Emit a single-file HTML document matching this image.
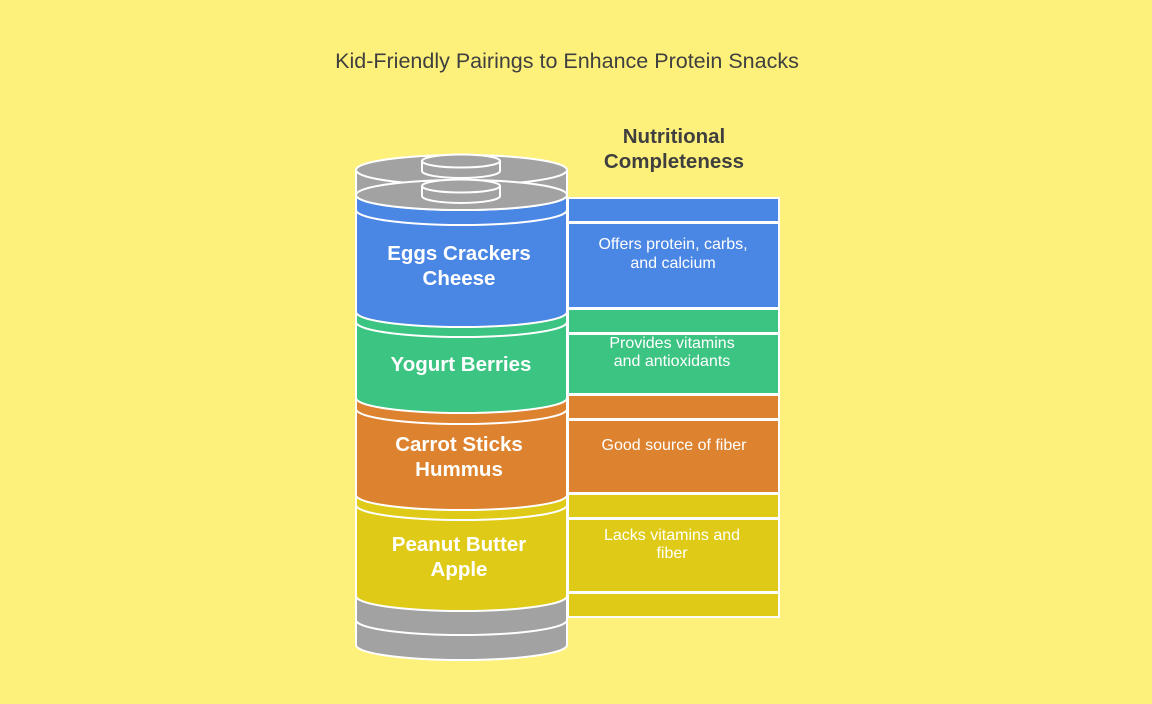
<!DOCTYPE html>
<html><head><style>
body{margin:0;width:1152px;height:704px;background:#fef17b;overflow:hidden}
svg{display:block}
text{font-family:"Liberation Sans",sans-serif}
</style></head><body>
<svg width="1152" height="704" viewBox="0 0 1152 704">
<rect width="1152" height="704" fill="#fef17b"/>
<text x="567" y="68" font-size="21.5" fill="#3f3f3f" text-anchor="middle">Kid-Friendly Pairings to Enhance Protein Snacks</text>
<text x="674" y="143" font-size="20.5" font-weight="bold" fill="#3f3f3f" text-anchor="middle">Nutritional</text>
<text x="674" y="168" font-size="20.5" font-weight="bold" fill="#3f3f3f" text-anchor="middle">Completeness</text>

<g stroke="#fff" stroke-width="2">
<rect x="568" y="198" width="211" height="24" fill="#4a86e4"/>
<rect x="568" y="223" width="211" height="85" fill="#4a86e4"/>
<rect x="568" y="309" width="211" height="24" fill="#3cc482"/>
<rect x="568" y="334" width="211" height="60" fill="#3cc482"/>
<rect x="568" y="395" width="211" height="24" fill="#dd822e"/>
<rect x="568" y="420" width="211" height="73" fill="#dd822e"/>
<rect x="568" y="494" width="211" height="24" fill="#dfcb17"/>
<rect x="568" y="519" width="211" height="73" fill="#dfcb17"/>
<rect x="568" y="593" width="211" height="24" fill="#dfcb17"/>

<path d="M356,596 L356,645 A105.5,15 0 0 0 567,645 L567,596 Z" fill="#a2a2a2"/>
<path d="M356,620 A105.5,15 0 0 0 567,620" fill="none"/>
<path d="M356,495 L356,596 A105.5,15 0 0 0 567,596 L567,495 Z" fill="#dfcb17"/>
<path d="M356,505 A105.5,15 0 0 0 567,505" fill="none"/>
<path d="M356,398 L356,495 A105.5,15 0 0 0 567,495 L567,398 Z" fill="#dd822e"/>
<path d="M356,409 A105.5,15 0 0 0 567,409" fill="none"/>
<path d="M356,312 L356,398 A105.5,15 0 0 0 567,398 L567,312 Z" fill="#3cc482"/>
<path d="M356,322 A105.5,15 0 0 0 567,322" fill="none"/>
<path d="M356,175 L356,312 A105.5,15 0 0 0 567,312 L567,175 Z" fill="#4a86e4"/>
<path d="M356,210 A105.5,15 0 0 0 567,210" fill="none"/>
<path d="M356,170 L356,195 A105.5,15 0 0 0 567,195 L567,170 Z" fill="#a2a2a2"/>
<ellipse cx="461.5" cy="170" rx="105.5" ry="15" fill="#a2a2a2"/>
<line x1="380" y1="187" x2="543" y2="187" />
<ellipse cx="461.5" cy="195" rx="105.5" ry="15" fill="#a2a2a2"/>
<path d="M422,161 L422,171 A39,7 0 0 0 500,171 L500,161" fill="#a2a2a2"/>
<ellipse cx="461" cy="161" rx="39" ry="6.5" fill="#a2a2a2"/>
<path d="M422,186 L422,196 A39,7 0 0 0 500,196 L500,186" fill="#a2a2a2"/>
<ellipse cx="461" cy="186" rx="39" ry="6.5" fill="#a2a2a2"/>
</g>

<g fill="#fff" font-weight="bold" font-size="20.5" text-anchor="middle">
<text x="459" y="260">Eggs Crackers</text>
<text x="459" y="285">Cheese</text>
<text x="461" y="371">Yogurt Berries</text>
<text x="459" y="451">Carrot Sticks</text>
<text x="459" y="476">Hummus</text>
<text x="459" y="551">Peanut Butter</text>
<text x="459" y="576">Apple</text>
</g>
<g fill="#fff" font-size="16" text-anchor="middle">
<text x="673" y="249">Offers protein, carbs,</text>
<text x="673" y="268">and calcium</text>
<text x="672" y="348">Provides vitamins</text>
<text x="672" y="366">and antioxidants</text>
<text x="674" y="450">Good source of fiber</text>
<text x="672" y="540">Lacks vitamins and</text>
<text x="672" y="558">fiber</text>
</g>
</svg>
</body></html>
